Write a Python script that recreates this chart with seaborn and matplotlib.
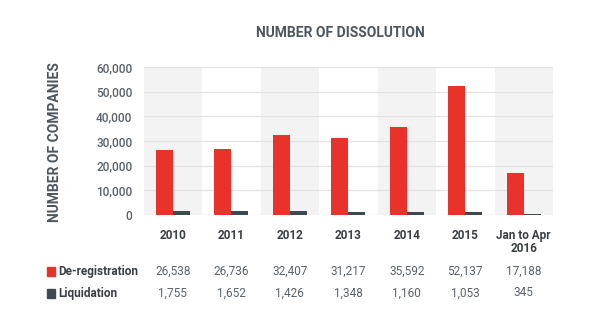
import matplotlib
matplotlib.use("Agg")
import matplotlib.pyplot as plt
import matplotlib.transforms as mtransforms
from matplotlib.patches import Rectangle
import seaborn as sns
import pandas as pd

# ---- data ----
categories = ['2010', '2011', '2012', '2013', '2014', '2015', 'Jan to Apr\n2016']
deregistration = [26538, 26736, 32407, 31217, 35592, 52137, 17188]
liquidation = [1755, 1652, 1426, 1348, 1160, 1053, 345]
series_names = ['De-registration', 'Liquidation']
yticks = [0, 10000, 20000, 30000, 40000, 50000, 60000]

RED = '#e8322a'
DARK = '#3e4a52'
TITLE_C = '#4b5660'

sns.set_theme(style='white')
FONT = ['Roboto', 'DejaVu Sans']
plt.rcParams['font.family'] = FONT

df = pd.DataFrame({
    'Year': categories * 2,
    'Value': deregistration + liquidation,
    'Type': [series_names[0]] * len(categories) + [series_names[1]] * len(categories),
})

W, H = 600, 327
fig = plt.figure(figsize=(6, 3.27), dpi=100)
ax = fig.add_axes([143.5 / W, 1 - 215 / H, (553 - 143.5) / W, (215 - 67) / H])

# alternating bands
for i in range(len(categories)):
    if i % 2 == 0:
        ax.axvspan(i - 0.5, i + 0.5, color='#f3f3f3', zorder=0, lw=0)

sns.barplot(data=df, x='Year', y='Value', hue='Type', palette=[RED, DARK],
            width=0.58, ax=ax, legend=False, zorder=3, saturation=1, linewidth=0)

ax.set_xlim(-0.5, len(categories) - 0.5)
ax.set_ylim(0, 60000)
ax.set_yticks(yticks)
ax.set_yticklabels([f'{v:,}' for v in yticks], fontsize=8.5, color='#59626a', fontweight='medium')
ax.yaxis.grid(True, color='#e3e3e3', lw=0.9, zorder=1)
ax.set_axisbelow(True)
for s in ax.spines.values():
    s.set_visible(False)
ax.tick_params(axis='y', length=0, pad=8)
ax.tick_params(axis='x', length=0, pad=10)
ax.set_xticks(range(len(categories)))
ax.set_xticklabels(categories, fontsize=8.5, color='#3a3f44', fontweight='bold', linespacing=1.05)
ax.set_xlabel('')
ax.set_ylabel('')

# title and y-label
fig.text(340 / W, 1 - 33 / H, 'NUMBER OF DISSOLUTION', ha='center', va='center',
         fontsize=10, fontweight='bold', color=TITLE_C)
fig.text(55 / W, 1 - 142 / H, 'NUMBER OF COMPANIES', ha='center', va='center',
         rotation=90, fontsize=10, fontweight='bold', color=TITLE_C)

# data table below
trans = mtransforms.blended_transform_factory(ax.transData, fig.transFigure)
rows = [(deregistration, 271, RED, series_names[0]), (liquidation, 293, DARK, series_names[1])]
for vals, ypix, col, name in rows:
    yf = 1 - ypix / H
    for i, v in enumerate(vals):
        ax.text(i, yf, f'{v:,}', transform=trans, ha='center', va='center',
                fontsize=8.5, color='#59626a', clip_on=False)
    fig.patches.append(Rectangle((46.7 / W, yf - 4.5 / H), 8.6 / W, 9 / H,
                                 transform=fig.transFigure, color=col, figure=fig))
    fig.text(58 / W, yf, name, ha='left', va='center', fontsize=8.5,
             fontweight='bold', color='#3a3f44')

fig.savefig('out.png', dpi=100, facecolor='white')
